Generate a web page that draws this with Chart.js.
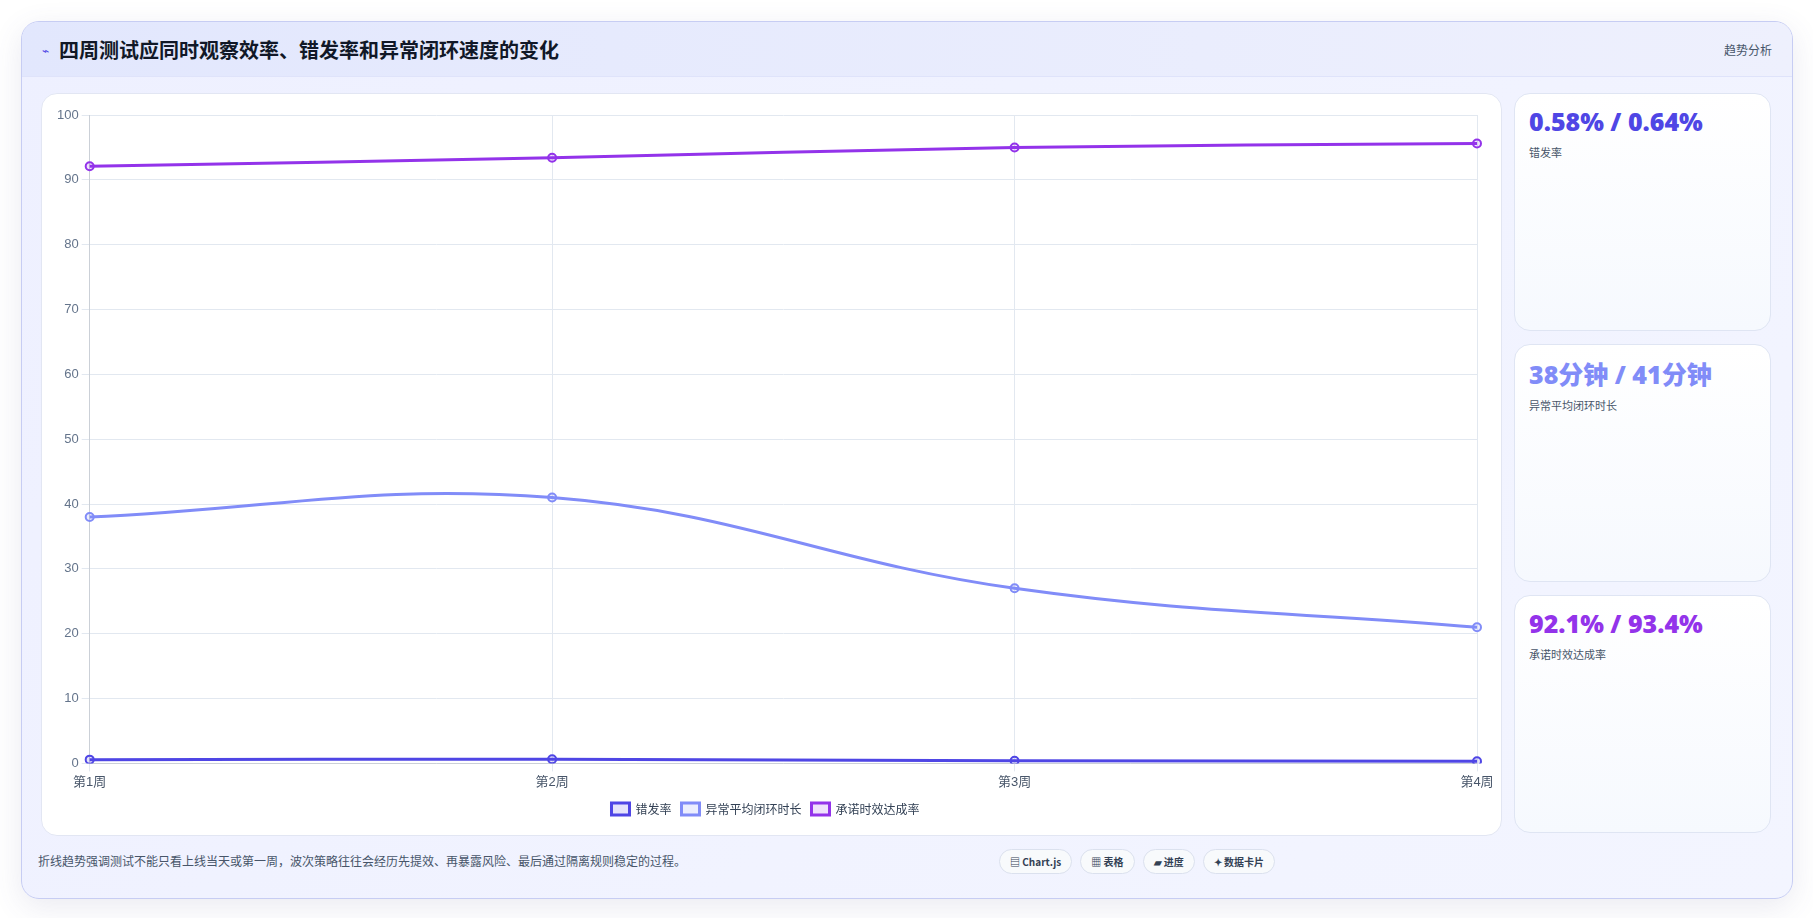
<!DOCTYPE html>
<html><head><meta charset="utf-8">
<script src="https://cdn.jsdelivr.net/npm/chart.js@4/dist/chart.umd.min.js"></script>
<style>
body{margin:0;background:#fff;font-family:"Noto Sans CJK SC","Noto Sans",sans-serif;}
.card{position:absolute;left:21px;top:21px;width:1770px;height:876px;border:1px solid #c7cdf3;border-radius:18px;background:linear-gradient(135deg,#eef0ff,#f3f5ff);box-shadow:0 8px 30px rgba(80,80,140,.12);overflow:hidden}
.head{height:54px;border-bottom:1px solid #dfe3fa;background:linear-gradient(90deg,#e2e7fd,#eef0fd);display:flex;align-items:center;padding:0 20px}
.head h1{font-size:20px;margin:0;color:#111827;font-weight:700}
.head .ic{color:#4f46e5;font-size:12px;margin-right:10px}
.head .tag{margin-left:auto;font-size:12px;color:#475569}
.panel{position:absolute;left:19px;top:71px;width:1459px;height:741px;background:#fff;border:1px solid #e2e6f3;border-radius:16px}
.side{position:absolute;left:1492px;width:257px;height:238px;border:1px solid #dfe5f3;border-radius:16px;background:linear-gradient(180deg,#fff,#f6f9fe);box-sizing:border-box;padding:10px 14px}
.side b{display:block;font-size:25px;font-weight:800;font-family:"Open Sans","Noto Sans CJK SC",sans-serif}
.side span{font-size:11px;color:#475569}
.foot{position:absolute;left:16px;top:830px;font-size:12px;color:#475569}
.btns{position:absolute;left:977px;top:827px;display:flex;gap:8px}
.btns div{font-size:10px;font-weight:700;color:#334155;border:1px solid #dbe1ee;border-radius:14px;padding:4px 10px;background:#f8fafc}
</style></head><body>
<div class="card">
 <div class="head"><span class="ic">⌁</span><h1>四周测试应同时观察效率、错发率和异常闭环速度的变化</h1><span class="tag">趋势分析</span></div>
 <div class="panel"><canvas id="c"></canvas></div>
 <div class="side" style="top:71px"><b style="color:#4f46e5">0.58% / 0.64%</b><span>错发率</span></div>
 <div class="side" style="top:322px"><b style="color:#818cf8">38分钟 / 41分钟</b><span>异常平均闭环时长</span></div>
 <div class="side" style="top:573px"><b style="color:#9333ea">92.1% / 93.4%</b><span>承诺时效达成率</span></div>
 <div class="foot">折线趋势强调测试不能只看上线当天或第一周，波次策略往往会经历先提效、再暴露风险、最后通过隔离规则稳定的过程。</div>
 <div class="btns"><div>▤ Chart.js</div><div>▦ 表格</div><div>▰ 进度</div><div>✦ 数据卡片</div></div>
</div>
<script>
const weeks = ['第1周','第2周','第3周','第4周'];
const errorRate = [0.58, 0.64, 0.42, 0.33];
const closeMinutes = [38, 41, 27, 21];
const onTimeRate = [92.1, 93.4, 95.0, 95.6];
const seriesNames = ['错发率','异常平均闭环时长','承诺时效达成率'];
const colors = ['#4f46e5','#818cf8','#9333ea'];
const fills = ['rgba(79,70,229,.15)','rgba(129,140,248,.15)','rgba(147,51,234,.15)'];

const cv = document.getElementById('c');
cv.style.width='1459px';cv.style.height='741px';
Chart.defaults.font.family = '"Liberation Sans","Noto Sans CJK SC",sans-serif';
new Chart(cv, {
  type: 'line',
  data: { labels: weeks, datasets: [errorRate, closeMinutes, onTimeRate].map((d,i)=>({
    label: seriesNames[i], data: d, borderColor: colors[i], backgroundColor: fills[i],
    borderWidth: 3, tension: 0.4, pointRadius: 4, pointBorderWidth: 2, pointBackgroundColor: fills[i]
  }))},
  options: {
    responsive: false, animation: false,
    layout: { padding: { left: 12, right: 24, top: 21, bottom: 10 } },
    scales: {
      x: { grid: { color: '#e2e8f0' }, ticks: { color: '#475569', font: { size: 13 } } },
      y: { min: 0, max: 100, ticks: { stepSize: 10, color: '#64748b', font: { size: 13 } }, grid: { color: '#e2e8f0' } }
    },
    plugins: { legend: { position: 'bottom', labels: { color: '#334155', font: { size: 12, family: '"Noto Sans CJK SC",sans-serif' }, boxWidth: 18, boxHeight: 12 } } }
  }
});
</script>
</body></html>
